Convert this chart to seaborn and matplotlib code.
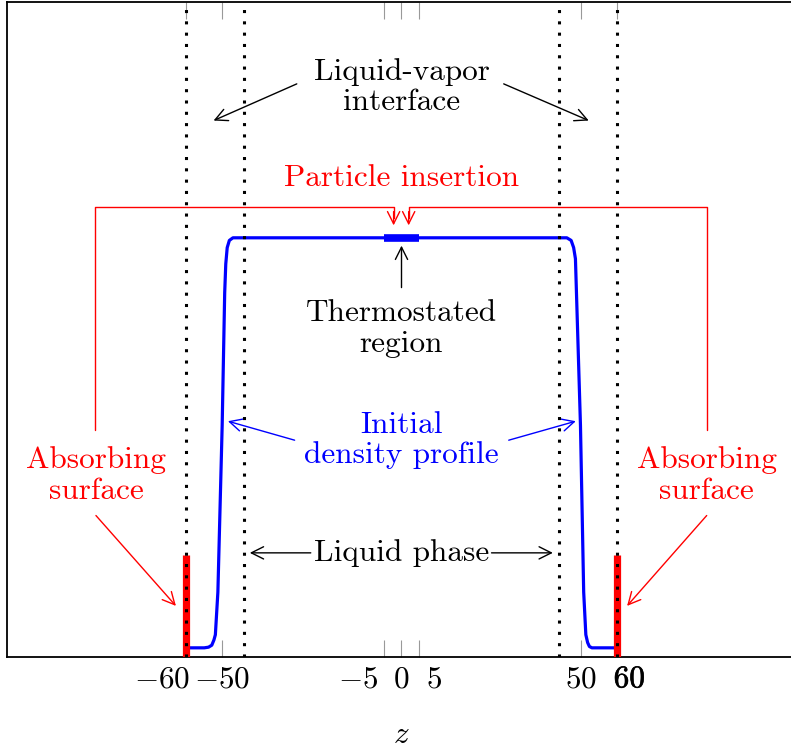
import matplotlib
matplotlib.use("Agg")
import matplotlib.pyplot as plt
import matplotlib.patheffects as pe
from matplotlib.transforms import ScaledTranslation
import pandas as pd
import seaborn as sns

# density profile
z_profile = [-60, -55, -53.8, -52.9, -52.3, -51.9, -51.2, -50.0, -49.3, -49.0,
             -48.6, -48.0, -47.0, -44, 0, 44, 46.1, 47.3, 48.0, 48.5, 49.9,
             50.8, 51.4, 51.9, 52.4, 53.1, 55, 60]
rho_profile = [0.014, 0.014, 0.015, 0.018, 0.026, 0.034, 0.099, 0.354, 0.556, 0.60,
               0.625, 0.636, 0.640, 0.640, 0.640, 0.640, 0.640, 0.636, 0.625, 0.608, 0.354,
               0.099, 0.034, 0.022, 0.016, 0.014, 0.014, 0.014]

thermo_z = [-5, 5]
thermo_rho = [0.640, 0.640]

interface_z = [-60, -44, 44, 60]
absorber_z = [-60, 60]
absorber_top = 0.155

tick_values = [-60, -50, -5, 0, 5, 50, 60]
tick_labels = ["$-60$", "$-50$", "$-5$", "$0$", "$5$", "$50$", "$60$"]
label_nudge = [-24, 0, -25, 0, 15, 0, 13]   # pixels

sns.set_theme(style="ticks")
plt.rcParams["font.family"] = ["cmr10", "DejaVu Serif"]
plt.rcParams["mathtext.fontset"] = "cm"
plt.rcParams["axes.unicode_minus"] = False
plt.rcParams["text.color"] = "black"
plt.rcParams["xtick.labelcolor"] = "black"
plt.rcParams["axes.labelcolor"] = "black"

FS = 22.5

fig = plt.figure(figsize=(7.91, 7.51), dpi=100)
ax = fig.add_axes([7 / 791, 94 / 751, 789 / 791, 655 / 751])

df = pd.DataFrame({"z": z_profile, "rho": rho_profile})
sns.lineplot(data=df, x="z", y="rho", ax=ax, color="blue", lw=2.3, sort=False, zorder=3)
ax.plot(thermo_z, thermo_rho, color="blue", lw=5.5, solid_capstyle="butt", zorder=4)

ax.vlines(absorber_z, 0, absorber_top, color="red", lw=5.2, zorder=5)
for zz in interface_z:
    ax.axvline(zz, color="black", lw=2.2, ls=(0, (1, 2.7)), zorder=6)

ax.set_xlim(-110, 110)
ax.set_ylim(0, 1)
ax.set_yticks([])
ax.set_xticks(tick_values)
ax.set_xticklabels(tick_labels, fontsize=FS, color="black")
ax.tick_params(axis="x", direction="in", length=12, width=0.8, color="0.6",
               top=True, bottom=True, pad=6)
for lab, dx in zip(ax.get_xticklabels(), label_nudge):
    lab.set_transform(lab.get_transform() + ScaledTranslation(dx / 100, 0, fig.dpi_scale_trans))
ax.get_xticklabels()[-1].set_path_effects([pe.withStroke(linewidth=0.45, foreground="black")])
ax.set_xlabel("$z$", fontsize=FS, labelpad=20, color="black")
ax.set_ylabel("")
for s in ax.spines.values():
    s.set_linewidth(1.3)
    s.set_color("black")

def arrow(tip, tail, color="black"):
    ax.annotate("", xy=tip, xytext=tail,
                arrowprops=dict(arrowstyle="->", color=color, lw=1.0,
                                shrinkA=0, shrinkB=0, mutation_scale=22))

txt = dict(ha="center", va="center", fontsize=FS, linespacing=1.12)

# liquid-vapor interface
ax.text(0, 0.870, "Liquid-vapor\ninterface", color="black", **txt)
arrow((-52.4, 0.819), (-29.2, 0.875))
arrow((52.2, 0.819), (28.5, 0.875))

# particle insertion
ax.text(0, 0.732, "Particle insertion", color="red", **txt)
ax.plot([-85.5, -85.5, -2.2, -2.2], [0.346, 0.6875, 0.6875, 0.67], color="red", lw=1.0)
ax.plot([85.3, 85.3, 2.0, 2.0], [0.346, 0.6875, 0.6875, 0.67], color="red", lw=1.0)
arrow((-2.2, 0.659), (-2.2, 0.68), "red")
arrow((2.0, 0.659), (2.0, 0.68), "red")

# thermostated region
arrow((0, 0.628), (0, 0.564))
ax.text(0, 0.5015, "Thermostated\nregion", color="black", **txt)

# initial density profile
ax.text(0, 0.331, "Initial\ndensity profile", color="blue", **txt)
arrow((-48.4, 0.360), (-29.8, 0.331), "blue")
arrow((48.6, 0.360), (29.9, 0.331), "blue")

# absorbing surfaces
ax.text(-85.2, 0.277, "Absorbing\nsurface", color="red", **txt)
ax.text(85.1, 0.277, "Absorbing\nsurface", color="red", **txt)
arrow((-62.9, 0.078), (-85.2, 0.216), "red")
arrow((62.9, 0.078), (85.1, 0.216), "red")

# liquid phase
ax.text(0, 0.159, "Liquid phase", color="black", **txt)
arrow((-42.3, 0.159), (-25.3, 0.159))
arrow((42.2, 0.159), (25.1, 0.159))

fig.savefig("out.png", dpi=100)
